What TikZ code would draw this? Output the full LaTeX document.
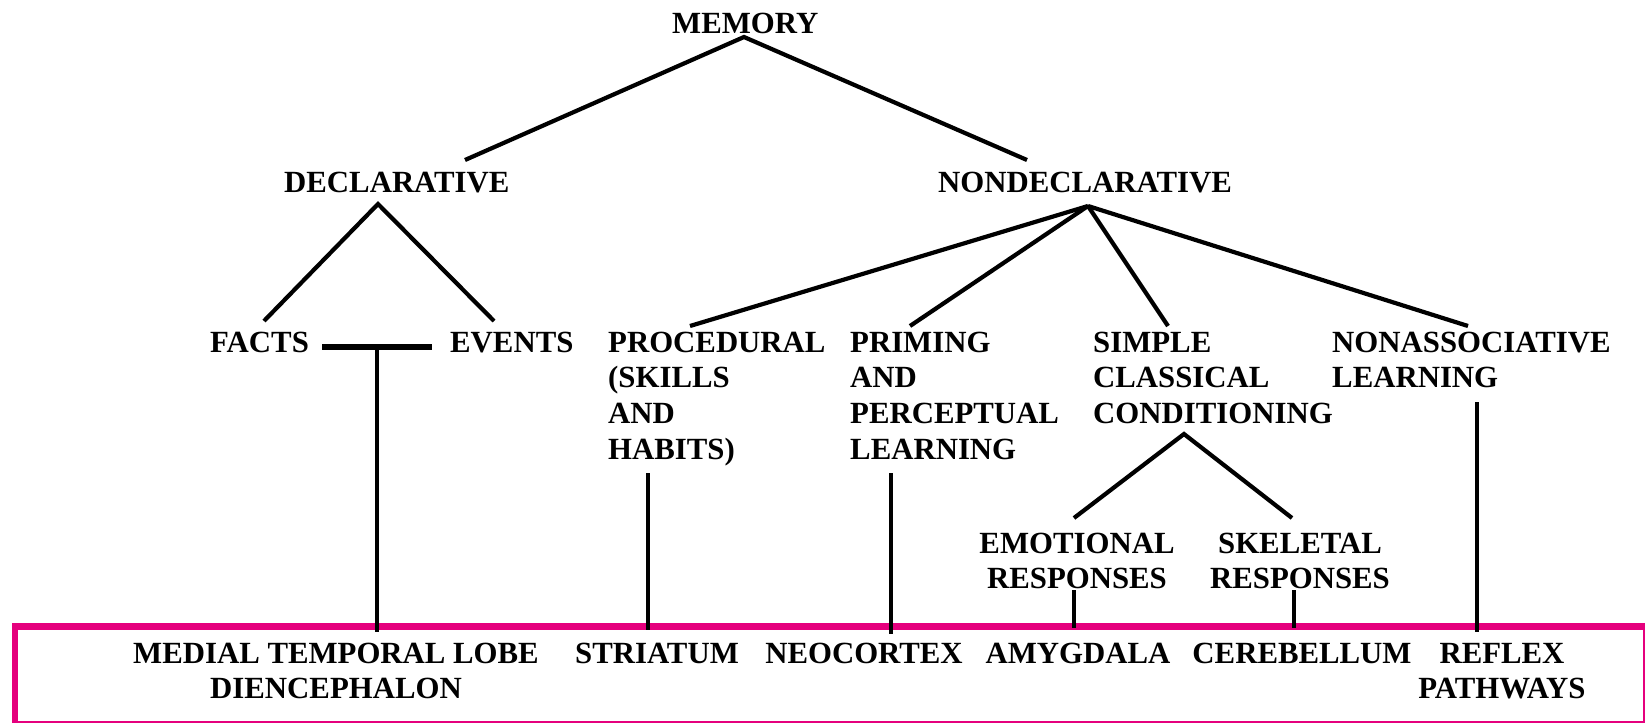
\documentclass[tikz,border=0pt]{standalone}
\usepackage{fontspec}
\setmainfont{Liberation Serif}
\definecolor{boxpink}{RGB}{229,0,125}
\begin{document}
\begin{tikzpicture}[x=1pt,y=-1pt,
  lbl/.style={font=\fontsize{30.8}{35.7}\selectfont\bfseries, inner sep=0pt, anchor=base west, align=left},
  clbl/.style={lbl, anchor=base, align=center},
  ln/.style={line width=4.2pt},
  vln/.style={line width=3.2pt}]
\useasboundingbox (0,0) rectangle (1647,723);
% box
\draw[boxpink, line width=2pt] (1644,626) -- (1644,721.8) -- (15,721.8);
\draw[boxpink, line width=7pt] (12,626.5) -- (1645,626.5);
\draw[boxpink, line width=6pt] (15,623) -- (15,723);
% labels (base anchor = baseline of the last line)
\node[lbl] (mem) at (672,33) {MEMORY};
\node[lbl] (decl) at (284,192) {DECLARATIVE};
\node[lbl] (nondecl) at (938,192) {NONDECLARATIVE};
\node[lbl] (facts) at (210,352) {FACTS};
\node[lbl] (events) at (450,352) {EVENTS};
\node[lbl] (proc) at (608,459.1) {PROCEDURAL\\(SKILLS\\AND\\HABITS)};
\node[lbl] (prim) at (850,459.1) {PRIMING\\AND\\PERCEPTUAL\\LEARNING};
\node[lbl] (simple) at (1093,423.4) {SIMPLE\\CLASSICAL\\CONDITIONING};
\node[lbl] (nonassoc) at (1332,387.7) {NONASSOCIATIVE\\LEARNING};
\node[clbl] (emo) at (1077,588.7) {EMOTIONAL\\RESPONSES};
\node[clbl] (skel) at (1300,588.7) {SKELETAL\\RESPONSES};
\node[clbl] (mtl) at (336,698.7) {MEDIAL TEMPORAL LOBE\\DIENCEPHALON};
\node[clbl] (str) at (657,663) {STRIATUM};
\node[clbl] (neo) at (864,663) {NEOCORTEX};
\node[clbl] (amy) at (1078,663) {AMYGDALA};
\node[clbl] (cer) at (1302,663) {CEREBELLUM};
\node[clbl] (refl) at (1502,698.7) {REFLEX\\PATHWAYS};
% connector points
\coordinate (memB) at (744,37);
\coordinate (declT) at (465,160);
\coordinate (nondeclT) at (1027,160);
\coordinate (declB) at (378,204);
\coordinate (factsT) at (264,321);
\coordinate (eventsT) at (494,321);
\coordinate (barL) at (322,347);
\coordinate (barR) at (432,347);
\coordinate (barM) at (377,347);
\coordinate (mtlT) at (377,632);
\coordinate (nondeclB) at (1088,206);
\coordinate (procT) at (690,326);
\coordinate (primT) at (910,326);
\coordinate (simpleT) at (1168,326);
\coordinate (nonassocT) at (1468,326);
\coordinate (procB) at (648,473);
\coordinate (strT) at (648,630);
\coordinate (primB) at (891,473);
\coordinate (neoT) at (891,634);
\coordinate (simpleB) at (1184,434);
\coordinate (emoT) at (1074,518);
\coordinate (skelT) at (1292,518);
\coordinate (emoB) at (1074,590);
\coordinate (amyT) at (1074,628);
\coordinate (skelB) at (1294,590);
\coordinate (cerT) at (1294,628);
\coordinate (nonassocB) at (1477,402);
\coordinate (reflT) at (1477,632);
% connectors
\draw[ln] (declT) -- (memB) -- (nondeclT);
\draw[ln] (factsT) -- (declB) -- (eventsT);
\draw[line width=5.5pt] (barL) -- (barR);
\draw[vln] (barM) -- (mtlT);
\draw[ln] (nondeclB) -- (procT);
\draw[ln] (nondeclB) -- (primT);
\draw[ln] (nondeclB) -- (simpleT);
\draw[ln] (nondeclB) -- (nonassocT);
\draw[vln] (procB) -- (strT);
\draw[vln] (primB) -- (neoT);
\draw[ln] (emoT) -- (simpleB) -- (skelT);
\draw[vln] (emoB) -- (amyT);
\draw[vln] (skelB) -- (cerT);
\draw[vln] (nonassocB) -- (reflT);
\end{tikzpicture}
\end{document}
